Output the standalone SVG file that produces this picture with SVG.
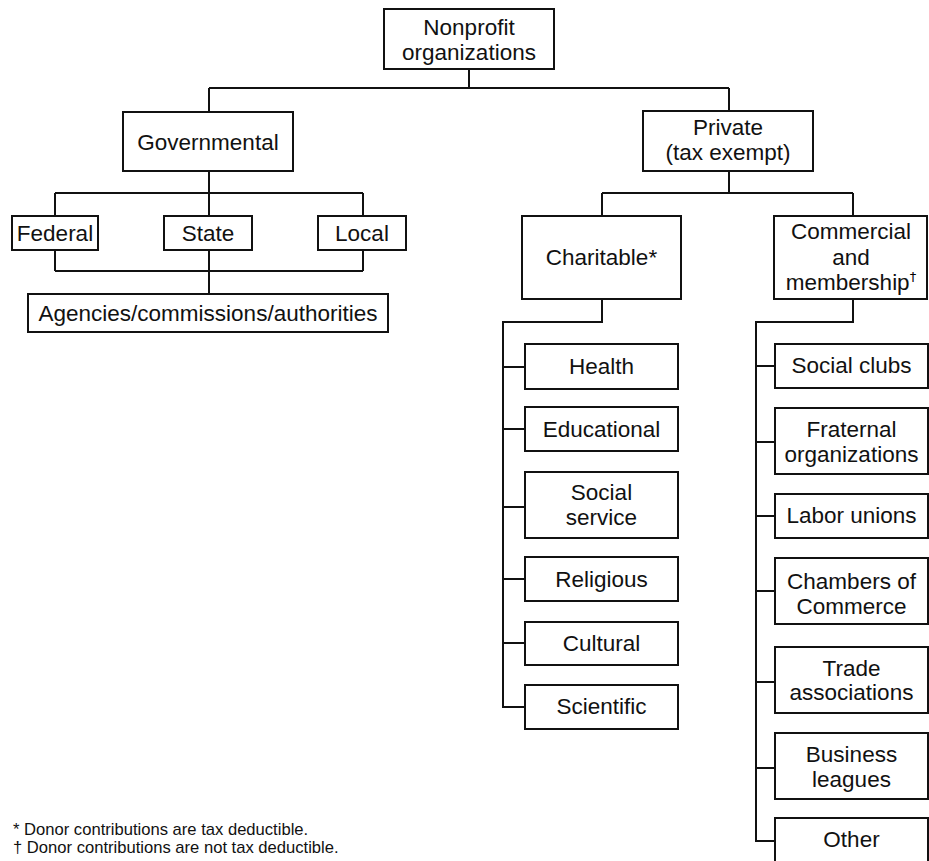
<svg xmlns="http://www.w3.org/2000/svg" width="929" height="861" viewBox="0 0 929 861">
<style>
.box{fill:#fff;stroke:#111;stroke-width:2}
.c{fill:none;stroke:#111;stroke-width:2}
text{font-family:"Liberation Sans",Arial,sans-serif;font-size:22.5px;fill:#111;text-anchor:middle}
.fn{font-size:16.6px;text-anchor:start}
.sup{font-family:"DejaVu Sans",sans-serif;font-size:13px;fill:#000}
</style>
<rect width="929" height="861" fill="#fff"/>
<g id="connectors" class="c">
<path d="M469,69V88M209,88H729M209,88V112M729,88V111"/>
<path d="M209,171V193M55,193H363M55,193V216M209,193V216M363,193V216"/>
<path d="M55,250V271M363,250V271M55,271H363M209,250V294"/>
<path d="M729,171V193M602,193H853M602,193V216M853,193V216"/>
<path d="M602,299V322H503V707H525M503,367H525M503,429H525M503,507H525M503,579H525M503,643H525"/>
<path d="M853,299V322H756V841H775M756,366H775M756,442H775M756,516H775M756,591H775M756,682H775M756,768H775"/>
</g>
<g id="nonprofit"><rect class="box" x="384" y="9" width="170" height="60"/><text x="469" y="35">Nonprofit</text><text x="469" y="60">organizations</text></g>
<g id="governmental"><rect class="box" x="123" y="112" width="170" height="59"/><text x="208" y="150">Governmental</text></g>
<g id="federal"><rect class="box" x="12" y="216" width="86" height="34"/><text x="55" y="241">Federal</text></g>
<g id="state"><rect class="box" x="164" y="216" width="88" height="34"/><text x="208" y="241">State</text></g>
<g id="local"><rect class="box" x="318" y="216" width="88" height="34"/><text x="362" y="241">Local</text></g>
<g id="agencies"><rect class="box" x="28" y="294" width="360" height="38"/><text x="208" y="321">Agencies/commissions/authorities</text></g>
<g id="private"><rect class="box" x="643" y="111" width="170" height="60"/><text x="728" y="135">Private</text><text x="728" y="160">(tax exempt)</text></g>
<g id="charitable"><rect class="box" x="522" y="216" width="159" height="83"/><text x="601.5" y="265">Charitable*</text></g>
<g id="commercial"><rect class="box" x="774" y="216" width="153" height="83"/><text x="851" y="239">Commercial</text><text x="851" y="265">and</text><text x="851" y="290">membership<tspan class="sup" dy="-9">†</tspan></text></g>
<g id="health"><rect class="box" x="525" y="344" width="153" height="45"/><text x="601.5" y="374">Health</text></g>
<g id="educational"><rect class="box" x="525" y="407" width="153" height="44"/><text x="601.5" y="437">Educational</text></g>
<g id="social-service"><rect class="box" x="525" y="472" width="153" height="66"/><text x="601.5" y="500">Social</text><text x="601.5" y="525">service</text></g>
<g id="religious"><rect class="box" x="525" y="557" width="153" height="44"/><text x="601.5" y="587">Religious</text></g>
<g id="cultural"><rect class="box" x="525" y="622" width="153" height="43"/><text x="601.5" y="651">Cultural</text></g>
<g id="scientific"><rect class="box" x="525" y="685" width="153" height="44"/><text x="601.5" y="714">Scientific</text></g>
<g id="social-clubs"><rect class="box" x="775" y="344" width="153" height="44"/><text x="851.5" y="373">Social clubs</text></g>
<g id="fraternal"><rect class="box" x="775" y="408" width="153" height="66"/><text x="851.5" y="437">Fraternal</text><text x="851.5" y="462">organizations</text></g>
<g id="labor"><rect class="box" x="775" y="494" width="153" height="44"/><text x="851.5" y="523">Labor unions</text></g>
<g id="chambers"><rect class="box" x="775" y="558" width="153" height="66"/><text x="851.5" y="589">Chambers of</text><text x="851.5" y="614">Commerce</text></g>
<g id="trade"><rect class="box" x="775" y="647" width="153" height="66"/><text x="851.5" y="676">Trade</text><text x="851.5" y="700">associations</text></g>
<g id="business"><rect class="box" x="775" y="733" width="153" height="66"/><text x="851.5" y="762">Business</text><text x="851.5" y="787">leagues</text></g>
<g id="other"><rect class="box" x="775" y="818" width="153" height="60"/><text x="851.5" y="847">Other</text></g>
<g id="footnotes"><text class="fn" x="13" y="835">* Donor contributions are tax deductible.</text><text class="fn" x="13" y="853">† Donor contributions are not tax deductible.</text></g>
</svg>
